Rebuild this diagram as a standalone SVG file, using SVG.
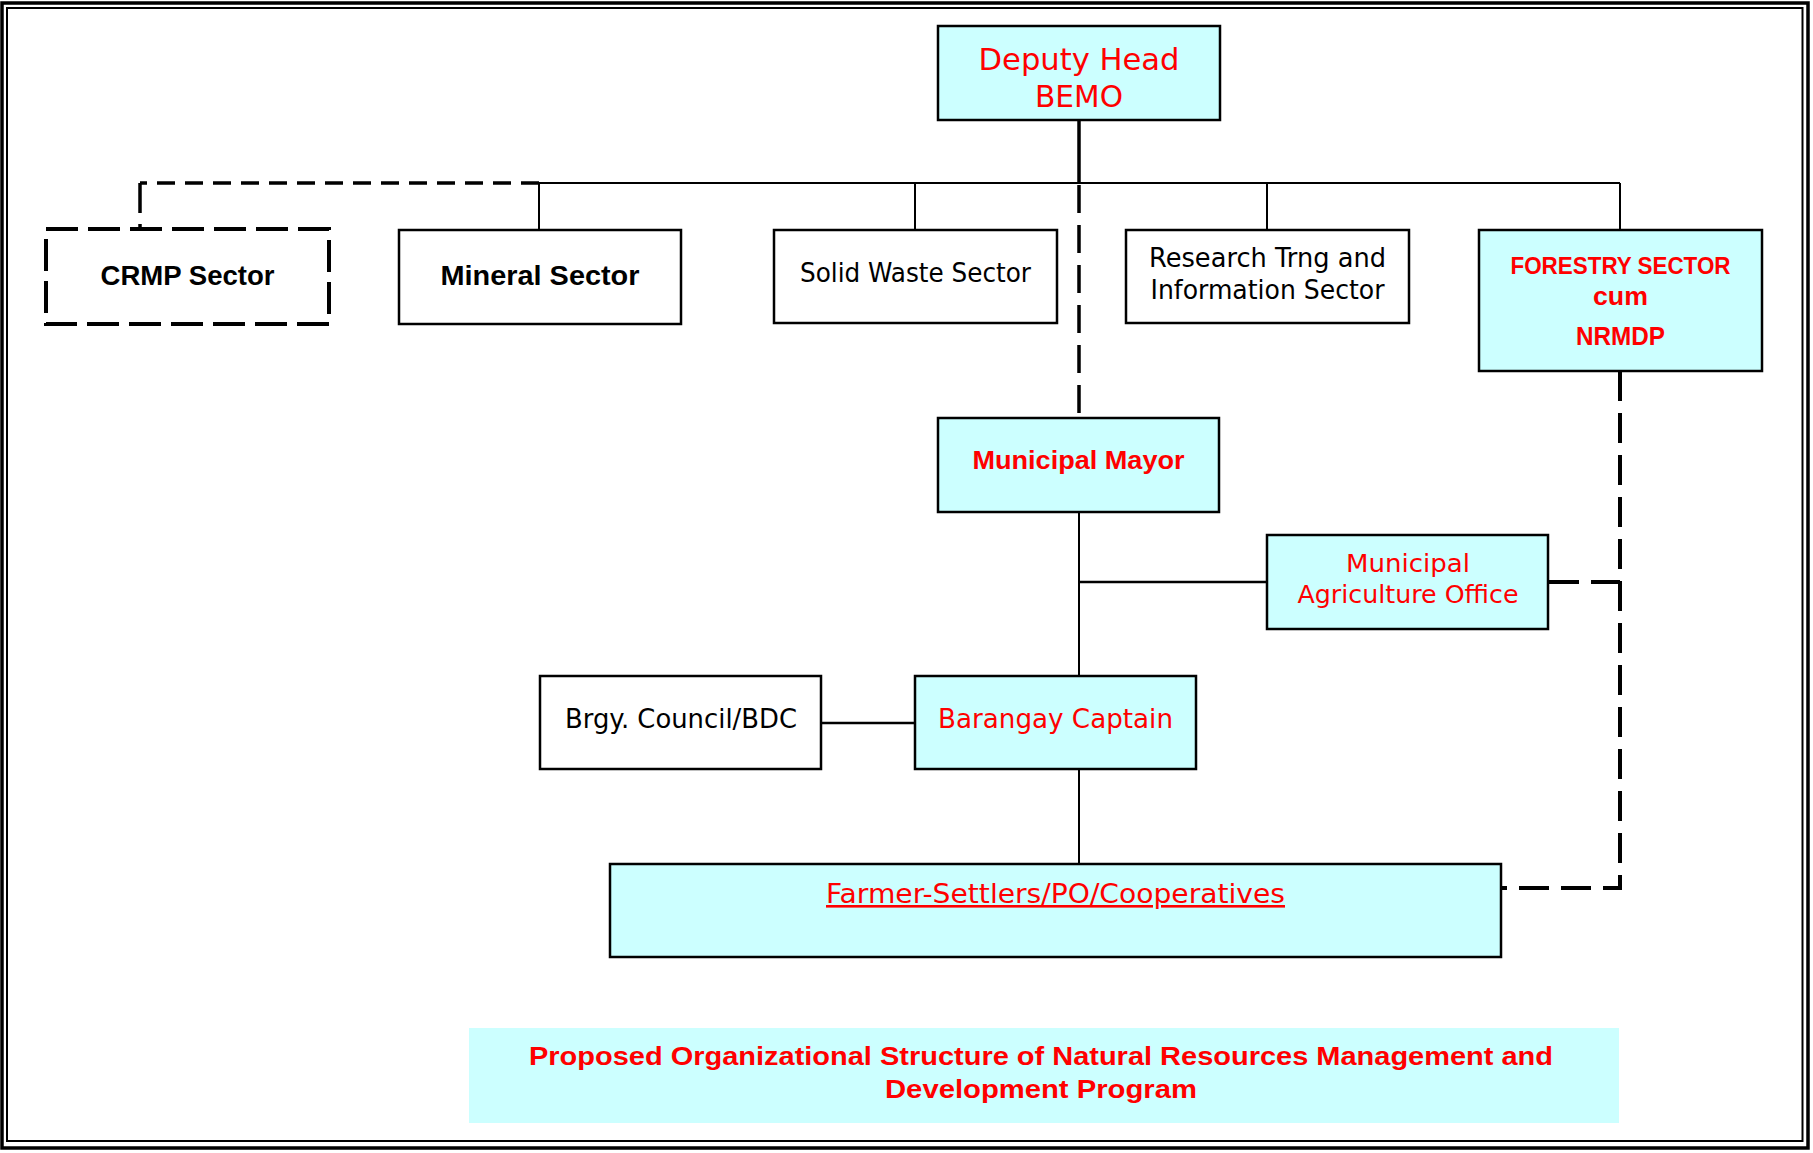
<svg xmlns="http://www.w3.org/2000/svg" width="1813" height="1153" viewBox="0 0 1813 1153">
  <style>
    .box{stroke:#000;stroke-width:2.5}
    .cyan{fill:#ccffff}
    .white{fill:#fff}
    .t{font-family:"DejaVu Sans",sans-serif;text-anchor:middle}
    .b{font-family:"Liberation Sans",Arial,sans-serif;font-weight:bold;text-anchor:middle}
    .red{fill:#ff0000}
    .blk{fill:#000}
    .line{stroke:#000;stroke-width:2;fill:none}
    .dash{stroke:#000;stroke-width:4;fill:none;stroke-dasharray:30 12}
  </style>

  <rect width="1813" height="1153" fill="#fff"/>

  <!-- page frame: thick outer rule, thin inner rule -->
  <g id="frame" fill="none" stroke="#000">
    <rect x="2" y="3" width="1806" height="1145" stroke-width="3.5"/>
    <rect x="7" y="8" width="1795.5" height="1133" stroke-width="2"/>
  </g>

  <!-- connectors -->
  <g id="connectors">
    <path class="line" d="M539 183H1620"/>
    <path class="line" d="M539 183V230M915 183V230M1267 183V230M1620 183V230"/>
    <path d="M1079 120V183" stroke="#000" stroke-width="3.5"/>
    <path d="M1079 185V418" stroke="#000" stroke-width="3.5" stroke-dasharray="28 12" fill="none"/>
    <path d="M539 183H140" stroke="#000" stroke-width="3.5" stroke-dasharray="18 10" fill="none"/>
    <path d="M140 183V229" stroke="#000" stroke-width="3.5" stroke-dasharray="30 11" fill="none"/>
    <path class="line" d="M1079 512V676"/>
    <path d="M1079 582H1267" stroke="#000" stroke-width="2.5"/>
    <path class="line" d="M1079 769V864"/>
    <path d="M821 723H915" stroke="#000" stroke-width="2.5"/>
    <path class="dash" d="M1620 371V888H1501" stroke-width="3.5"/>
    <path class="dash" d="M1549 582H1620"/>
  </g>

  <g id="deputy-head">
    <rect class="box cyan" x="938" y="26" width="282" height="94"/>
    <text class="t red" x="1079" y="70" style="font-size:31px" textLength="201" lengthAdjust="spacingAndGlyphs">Deputy Head</text>
    <text class="t red" x="1079" y="107" style="font-size:31px" textLength="88" lengthAdjust="spacingAndGlyphs">BEMO</text>
  </g>

  <g id="crmp-sector">
    <rect x="46" y="229" width="283" height="95" fill="#fff" stroke="#000" stroke-width="4" stroke-dasharray="32 10"/>
    <text class="b blk" x="187.5" y="285" style="font-size:27px" textLength="174" lengthAdjust="spacingAndGlyphs">CRMP Sector</text>
  </g>

  <g id="mineral-sector">
    <rect class="box white" x="399" y="230" width="282" height="94"/>
    <text class="b blk" x="540" y="285" style="font-size:27px" textLength="199" lengthAdjust="spacingAndGlyphs">Mineral Sector</text>
  </g>

  <g id="solid-waste-sector">
    <rect class="box white" x="774" y="230" width="283" height="93"/>
    <text class="t blk" x="915.5" y="282" style="font-size:26px" textLength="231" lengthAdjust="spacingAndGlyphs">Solid Waste Sector</text>
  </g>

  <g id="research-sector">
    <rect class="box white" x="1126" y="230" width="283" height="93"/>
    <text class="t blk" x="1267.5" y="267" style="font-size:26px" textLength="237" lengthAdjust="spacingAndGlyphs">Research Trng and</text>
    <text class="t blk" x="1267.5" y="299" style="font-size:26px" textLength="234" lengthAdjust="spacingAndGlyphs">Information Sector</text>
  </g>

  <g id="forestry-sector">
    <rect class="box cyan" x="1479" y="230" width="283" height="141"/>
    <text class="b red" x="1620.5" y="274" style="font-size:24px" textLength="220" lengthAdjust="spacingAndGlyphs">FORESTRY SECTOR</text>
    <text class="b red" x="1620.5" y="305" style="font-size:26px" textLength="55" lengthAdjust="spacingAndGlyphs">cum</text>
    <text class="b red" x="1620.5" y="345" style="font-size:26px" textLength="89" lengthAdjust="spacingAndGlyphs">NRMDP</text>
  </g>

  <g id="municipal-mayor">
    <rect class="box cyan" x="938" y="418" width="281" height="94"/>
    <text class="b red" x="1078.5" y="469" style="font-size:26px" textLength="212" lengthAdjust="spacingAndGlyphs">Municipal Mayor</text>
  </g>

  <g id="municipal-agriculture-office">
    <rect class="box cyan" x="1267" y="535" width="281" height="94"/>
    <text class="t red" x="1408" y="572" style="font-size:24px" textLength="124" lengthAdjust="spacingAndGlyphs">Municipal</text>
    <text class="t red" x="1408" y="603" style="font-size:24px" textLength="221" lengthAdjust="spacingAndGlyphs">Agriculture Office</text>
  </g>

  <g id="brgy-council">
    <rect class="box white" x="540" y="676" width="281" height="93"/>
    <text class="t blk" x="681" y="728" style="font-size:26px" textLength="232" lengthAdjust="spacingAndGlyphs">Brgy. Council/BDC</text>
  </g>

  <g id="barangay-captain">
    <rect class="box cyan" x="915" y="676" width="281" height="93"/>
    <text class="t red" x="1055.5" y="728" style="font-size:26px" textLength="235" lengthAdjust="spacingAndGlyphs">Barangay Captain</text>
  </g>

  <g id="farmer-settlers">
    <rect class="box cyan" x="610" y="864" width="891" height="93"/>
    <text class="t red" x="1055.5" y="903" style="font-size:26px" textLength="459" lengthAdjust="spacingAndGlyphs" text-decoration="underline">Farmer-Settlers/PO/Cooperatives</text>
  </g>

  <g id="caption">
    <rect class="cyan" x="469" y="1028" width="1150" height="95"/>
    <text class="b red" x="1041" y="1065" style="font-size:25px" textLength="1024" lengthAdjust="spacingAndGlyphs">Proposed Organizational Structure of Natural Resources Management and</text>
    <text class="b red" x="1041" y="1098" style="font-size:25px" textLength="312" lengthAdjust="spacingAndGlyphs">Development Program</text>
  </g>
</svg>
